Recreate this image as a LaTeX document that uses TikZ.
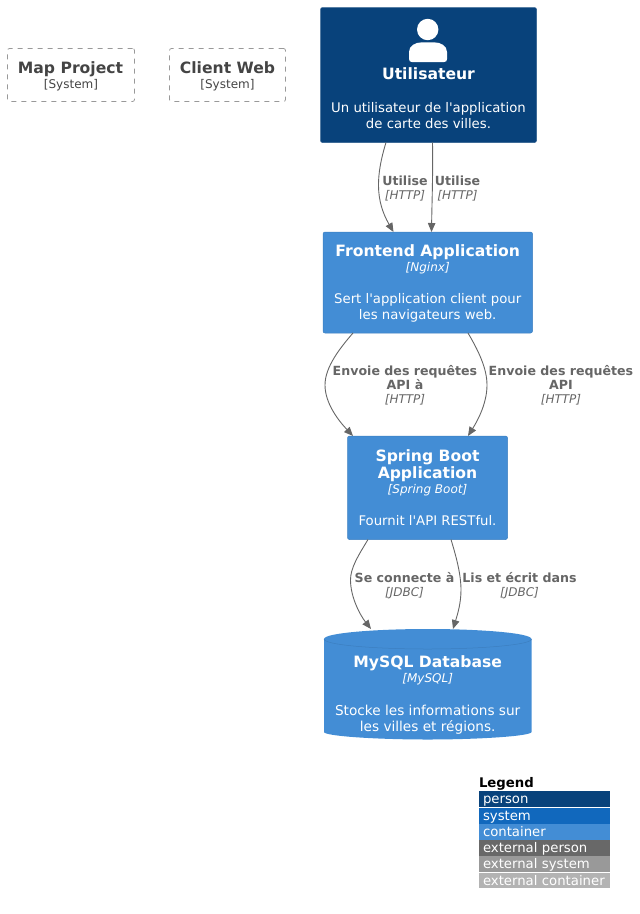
\documentclass[tikz,border=0pt]{standalone}
\usepackage{fontspec}
\setmainfont{DejaVu Sans}[Ligatures=TeXOff]
\usetikzlibrary{arrows.meta,calc}
\definecolor{cperson}{HTML}{08427B}
\definecolor{csystem}{HTML}{1168BD}
\definecolor{ccont}{HTML}{438DD5}
\definecolor{cextp}{HTML}{686868}
\definecolor{cexts}{HTML}{999999}
\definecolor{cextc}{HTML}{B3B3B3}
\definecolor{cline}{HTML}{666666}
\definecolor{ctitle}{HTML}{444444}
\newcommand{\fsT}{\fontsize{15.6}{17}\selectfont\bfseries}
\newcommand{\fsD}{\fontsize{13.25}{16}\selectfont}
\newcommand{\fsS}{\fontsize{12}{14}\selectfont}
\newcommand{\fsL}{\fontsize{12.6}{14}\selectfont\bfseries}
\newcommand{\fsI}{\fontsize{12}{14}\selectfont\itshape}
\tikzset{
 x=1pt,y=-1pt,
 boxshape/.style={rectangle,rounded corners=2pt,inner sep=0pt,outer sep=0pt,anchor=north west},
 bluebox/.style={boxshape,fill=ccont,draw=ccont!90!black,line width=.5pt},
 sysbox/.style={boxshape,draw=cexts,dash pattern=on 5pt off 5pt,line width=.8pt},
 txt/.style={inner sep=0pt,outer sep=0pt,anchor=center,yshift=-3pt},
 ttl/.style={txt,text=white,font=\fsT,text height=11.9pt,text depth=3.7pt},
 dsc/.style={txt,text=white,font=\fsD,text height=10pt,text depth=3.2pt},
 dscb/.style={txt,text=white,font=\fontsize{13.65}{16}\selectfont,text height=10.3pt,text depth=3.3pt},
 tch/.style={txt,text=white,font=\fsI,text height=9.1pt,text depth=2.9pt},
 syslab/.style={txt,text=ctitle,font=\fsS,text height=9.1pt,text depth=2.9pt},
 conn/.style={draw=cline,line width=.9pt,-{Triangle[length=9pt,width=7.5pt]}},
 lab/.style={txt,text=cline,font=\fsL,text height=9.6pt,text depth=3pt},
 labi/.style={txt,text=cline,font=\fsI,text height=9.1pt,text depth=2.9pt},
 leg/.style={inner sep=0pt,outer sep=0pt,anchor=north west,minimum width=131pt,text width=131pt,align=left,text=white,font=\fsD,text height=10.5pt,text depth=1pt,execute at begin node={\hspace*{4pt}}},
}
\begin{document}
\begin{tikzpicture}
\useasboundingbox (0,0) rectangle (640,914);
% external systems
\node[sysbox,minimum width=127pt,minimum height=53pt] (map) at (7.5,48.5) {};
\node[ttl,text=ctitle] (mapt) at (70.5,66.5) {Map Project};
\node[syslab] (maps) at (71,82.5) {[System]};
\node[sysbox,minimum width=116pt,minimum height=53pt] (web) at (169.5,48.5) {};
\node[ttl,text=ctitle] (webt) at (227.5,66.5) {Client Web};
\node[syslab] (webs) at (227.5,82.5) {[System]};
% user
\node[boxshape,fill=cperson,draw=cperson!85!white,line width=.5pt,minimum width=216pt,minimum height=135pt] (user) at (320.5,7.5) {};
\fill[white] (427.7,29.5) circle (10.7);
\fill[white] (412,62) -- (444,62) .. controls (446,62) and (447,61) .. (447,59) -- (447,52) .. controls (447,46) and (441,42.3) .. (434,42.3) -- (422,42.3) .. controls (415,42.3) and (409,46) .. (409,52) -- (409,59) .. controls (409,61) and (410,62) .. (412,62) -- cycle;
\node[ttl] (usert) at (428.5,72.5) {Utilisateur};
\node[dsc] (userd1) at (428.5,106.5) {Un utilisateur de l'application};
\node[dsc] (userd2) at (428.5,122.5) {de carte des villes.};
% frontend
\node[bluebox,minimum width=209.5pt,minimum height=101pt] (front) at (323,232) {};
\node[ttl] (frontt) at (427.7,249.5) {Frontend Application};
\node[tch] (frontc) at (427.7,265.5) {[Nginx]};
\node[dsc] (frontd1) at (427.7,297.5) {Sert l'application client pour};
\node[dsc] (frontd2) at (427.7,313.5) {les navigateurs web.};
% spring
\node[bluebox,minimum width=160pt,minimum height=103.5pt] (spring) at (347.5,436) {};
\node[ttl] (springt1) at (427.5,454.5) {Spring Boot};
\node[ttl] (springt2) at (427.5,471.5) {Application};
\node[tch] (springc) at (427.5,487.5) {[Spring Boot]};
\node[dsc] (springd) at (427.5,519.5) {Fournit l'API RESTful.};
% database
\fill[ccont] (324,639) .. controls (324,633) and (375,629) .. (427.7,629) .. controls (480,629) and (531.5,633) .. (531.5,639)
 -- (531.5,732) .. controls (531.5,736) and (480,739.5) .. (427.7,739.5) .. controls (375,739.5) and (324,736) .. (324,732) -- cycle;
\draw[ccont!90!black,line width=.5pt] (324,639) .. controls (324,645) and (375,649) .. (427.7,649) .. controls (480,649) and (531.5,645) .. (531.5,639);
\node[inner sep=0pt,outer sep=0pt,minimum width=207.5pt,minimum height=110.5pt,anchor=north west] (db) at (324,629) {};
\node[ttl] (dbt) at (427.7,660.5) {MySQL Database};
\node[tch] (dbc) at (427.7,676.5) {[MySQL]};
\node[dscb] (dbd1) at (427.7,708.5) {Stocke les informations sur};
\node[dscb] (dbd2) at (427.7,724.5) {les villes et régions.};
% connectors
\draw[conn] ($(user.south west)+(65.5,0)$) .. controls (376,175) and (375,200) .. ($(front.north west)+(70.5,0)$);
\draw[conn] ($(user.south west)+(112,0)$) .. controls (433,175) and (432,200) .. ($(front.north west)+(108.5,0)$);
\draw[conn] ($(front.south west)+(30,0)$) .. controls (340,348) and (325,367) .. (325,385) .. controls (325,403) and (338,420) .. ($(spring.north west)+(5.5,0)$);
\draw[conn] ($(front.south west)+(145,0)$) .. controls (478,350) and (487,368) .. (487,385) .. controls (487,403) and (478,420) .. ($(spring.north west)+(120.5,0)$);
\draw[conn] ($(spring.south west)+(20.5,0)$) .. controls (358,556) and (350.5,568) .. (350.5,580) .. controls (350.5,597) and (360,615) .. ($(db.north west)+(47,0)$);
\draw[conn] ($(spring.south west)+(103.5,0)$) .. controls (456,556) and (461,574) .. (461,590) .. controls (461,604) and (457,616) .. ($(db.north west)+(129,0)$);
% connector labels
\node[lab] (l1) at (405,179) {Utilise};
\node[labi] (l1i) at (405,193) {[HTTP]};
\node[lab] (l2) at (457.5,179) {Utilise};
\node[labi] (l2i) at (457.5,193) {[HTTP]};
\node[lab] (l3a) at (405,369) {Envoie des requêtes};
\node[lab] (l3b) at (405,383) {API à};
\node[labi] (l3i) at (405,397) {[HTTP]};
\node[lab] (l4a) at (561,369) {Envoie des requêtes};
\node[lab] (l4b) at (561,383) {API};
\node[labi] (l4i) at (561,397) {[HTTP]};
\node[lab] (l5) at (404.5,576) {Se connecte à};
\node[labi] (l5i) at (404.5,590) {[JDBC]};
\node[lab] (l6) at (519.5,576) {Lis et écrit dans};
\node[labi] (l6i) at (519.5,590) {[JDBC]};
% legend
\node[txt,anchor=west,text=black,font=\fsD\bfseries] (legt) at (479,780.5) {Legend};
\node[leg,fill=cperson,minimum height=16pt] (lg1) at (479,791) {person};
\node[leg,fill=csystem,minimum height=15.5pt] (lg2) at (479,808) {system};
\node[leg,fill=ccont,minimum height=15.5pt] (lg3) at (479,824) {container};
\node[leg,fill=cextp,minimum height=15.5pt] (lg4) at (479,840) {external person};
\node[leg,fill=cexts,minimum height=16pt] (lg5) at (479,856) {external system};
\node[leg,fill=cextc,minimum height=15pt] (lg6) at (479,873) {external container};
\end{tikzpicture}
\end{document}
